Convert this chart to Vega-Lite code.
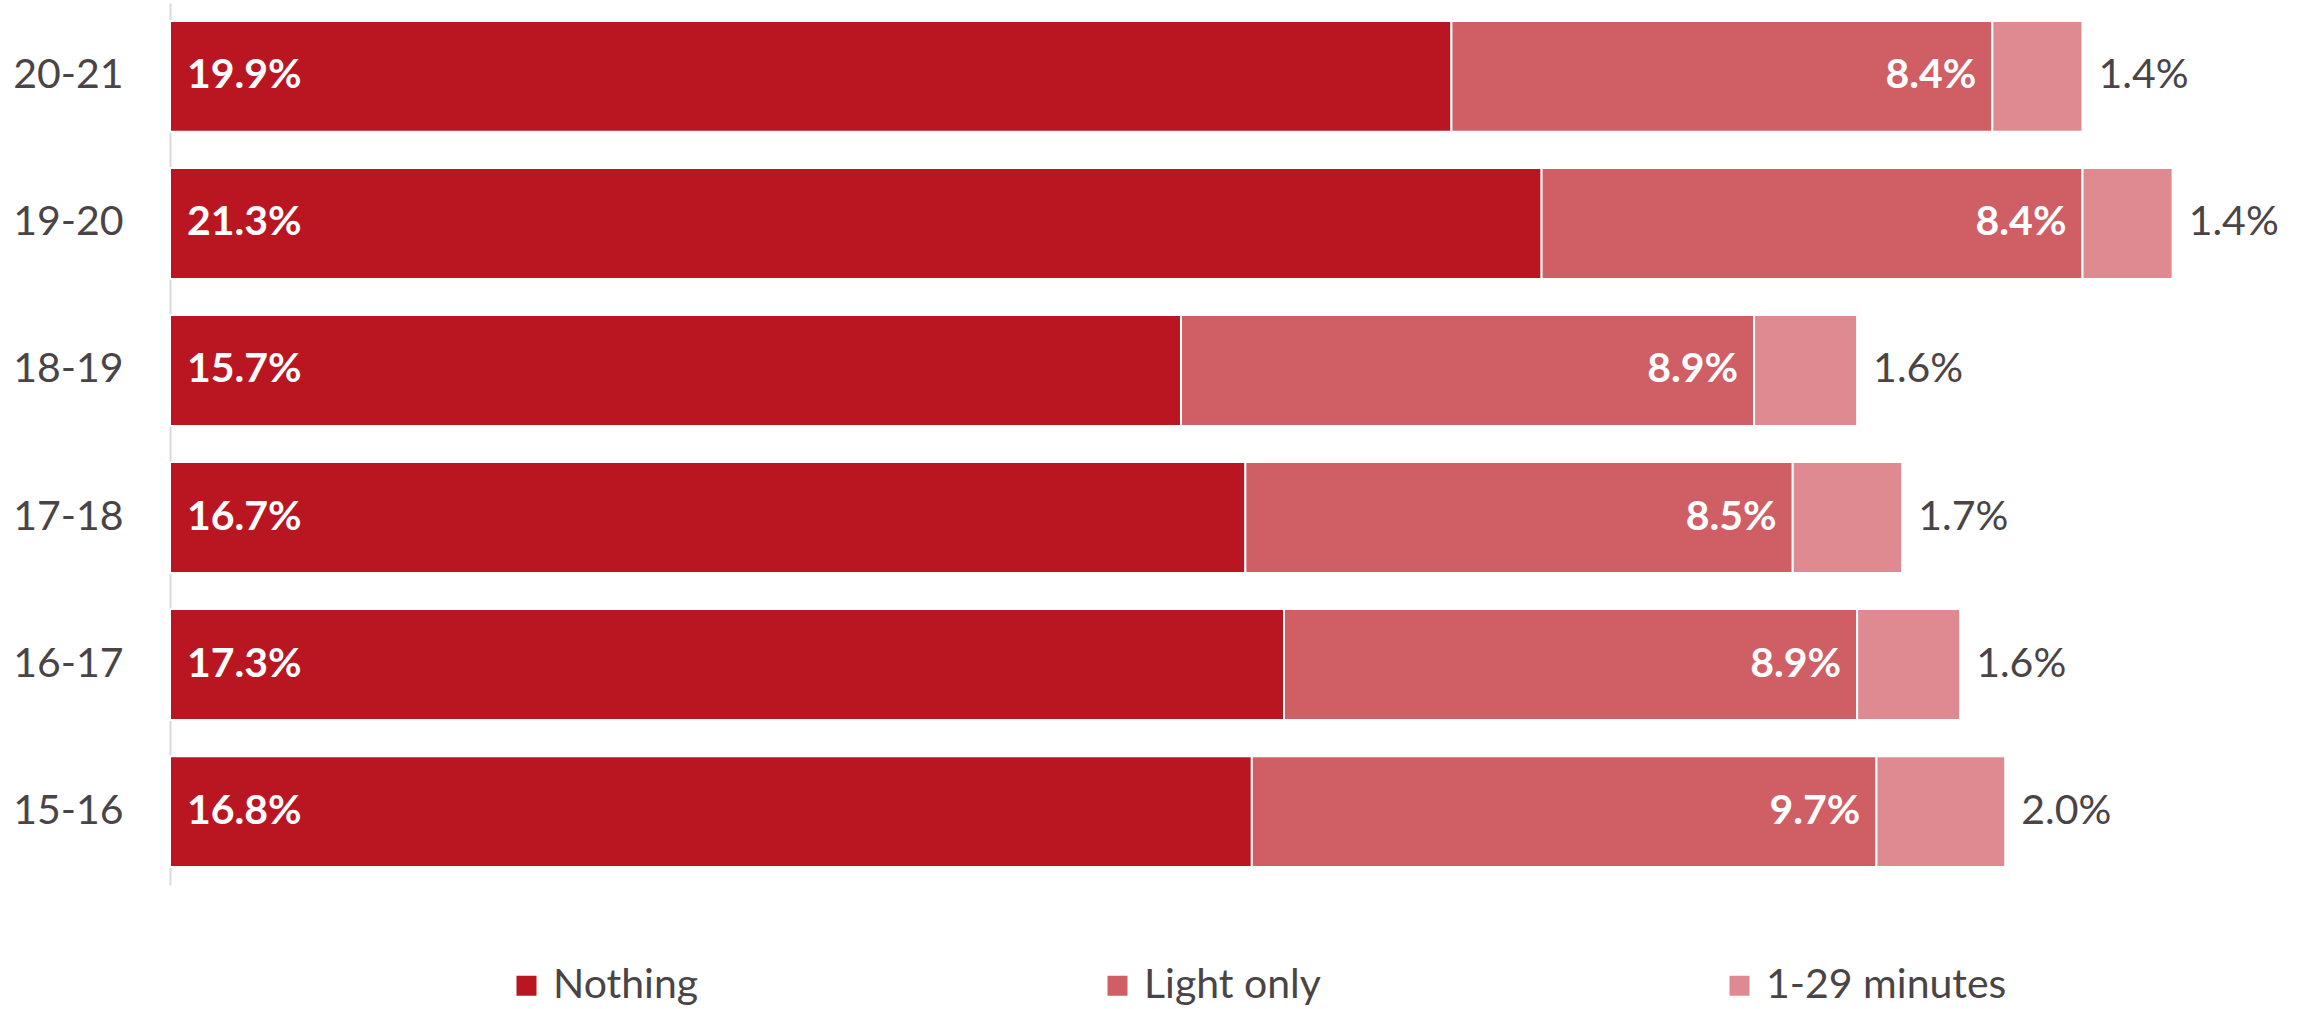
{
  "$schema": "https://vega.github.io/schema/vega-lite/v6.json",
  "autosize": "none",
  "width": 2125,
  "height": 882,
  "padding": {"left": 170, "top": 3, "right": 23, "bottom": 124},
  "background": "white",
  "data": {"values": [
    {"age": "20-21", "category": "Nothing", "value": 0.199},
    {"age": "20-21", "category": "Light only", "value": 0.084},
    {"age": "20-21", "category": "1-29 minutes", "value": 0.014},
    {"age": "19-20", "category": "Nothing", "value": 0.213},
    {"age": "19-20", "category": "Light only", "value": 0.084},
    {"age": "19-20", "category": "1-29 minutes", "value": 0.014},
    {"age": "18-19", "category": "Nothing", "value": 0.157},
    {"age": "18-19", "category": "Light only", "value": 0.089},
    {"age": "18-19", "category": "1-29 minutes", "value": 0.016},
    {"age": "17-18", "category": "Nothing", "value": 0.167},
    {"age": "17-18", "category": "Light only", "value": 0.085},
    {"age": "17-18", "category": "1-29 minutes", "value": 0.017},
    {"age": "16-17", "category": "Nothing", "value": 0.173},
    {"age": "16-17", "category": "Light only", "value": 0.089},
    {"age": "16-17", "category": "1-29 minutes", "value": 0.016},
    {"age": "15-16", "category": "Nothing", "value": 0.168},
    {"age": "15-16", "category": "Light only", "value": 0.097},
    {"age": "15-16", "category": "1-29 minutes", "value": 0.020}
  ]},
  "transform": [
    {"stack": "value", "groupby": ["age"], "sort": [{"field": "category", "order": "descending"}], "as": ["v0", "v1"]}
  ],
  "encoding": {
    "y": {
      "field": "age", "type": "nominal", "sort": "descending",
      "scale": {"paddingInner": 0.246, "paddingOuter": 0.1224},
      "axis": {
        "title": null, "ticks": false, "tickSize": 0, "grid": false,
        "labelFont": "Lato", "labelFontSize": 41, "labelColor": "#4a4446",
        "labelPadding": 47, "domainColor": "#d9d9d9", "domainWidth": 2
      }
    }
  },
  "layer": [
    {
      "mark": {"type": "bar", "stroke": "white", "strokeWidth": 2},
      "encoding": {
        "x": {"field": "v0", "type": "quantitative", "scale": {"domain": [0, 0.33], "nice": false, "zero": true}, "axis": null},
        "x2": {"field": "v1"},
        "color": {
          "field": "category", "type": "nominal",
          "scale": {"domain": ["Nothing", "Light only", "1-29 minutes"], "range": ["#ba1622", "#d05e65", "#df8a90"]},
          "legend": {
            "title": null, "orient": "none", "direction": "horizontal",
            "legendX": 336, "legendY": 962, "padding": 0,
            "symbolType": "square", "symbolSize": 400, "symbolStrokeWidth": 0,
            "labelFont": "Lato", "labelFontSize": 41, "labelColor": "#4a4446",
            "labelOffset": 6, "columnPadding": 398, "labelLimit": 0
          }
        }
      }
    },
    {
      "transform": [{"filter": "datum.category === 'Nothing'"}],
      "mark": {"type": "text", "align": "left", "baseline": "middle", "dx": 17, "font": "Lato", "fontSize": 41, "fontWeight": "bold", "color": "white"},
      "encoding": {
        "x": {"field": "v0", "type": "quantitative"},
        "text": {"field": "value", "type": "quantitative", "format": ".1%"}
      }
    },
    {
      "transform": [{"filter": "datum.category === 'Light only'"}],
      "mark": {"type": "text", "align": "right", "baseline": "middle", "dx": -16, "font": "Lato", "fontSize": 41, "fontWeight": "bold", "color": "white"},
      "encoding": {
        "x": {"field": "v1", "type": "quantitative"},
        "text": {"field": "value", "type": "quantitative", "format": ".1%"}
      }
    },
    {
      "transform": [{"filter": "datum.category === '1-29 minutes'"}],
      "mark": {"type": "text", "align": "left", "baseline": "middle", "dx": 16, "font": "Lato", "fontSize": 41, "color": "#4a4446"},
      "encoding": {
        "x": {"field": "v1", "type": "quantitative"},
        "text": {"field": "value", "type": "quantitative", "format": ".1%"}
      }
    }
  ],
  "config": {"view": {"stroke": null}}
}
